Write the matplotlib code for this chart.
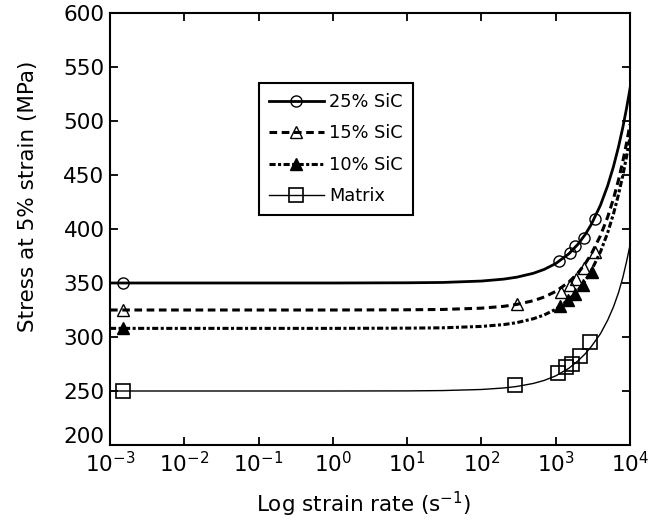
import numpy as np
import matplotlib
matplotlib.use('Agg')
import matplotlib.pyplot as plt
from matplotlib.lines import Line2D
from matplotlib.ticker import FixedLocator, NullLocator
from matplotlib.transforms import ScaledTranslation

plt.rcParams['font.family'] = ['DejaVu Sans']
plt.rcParams['mathtext.fontset'] = 'dejavusans'
plt.rcParams['mathtext.default'] = 'regular'

# fitted curves
rate_fit = [1e-3, 1e-1, 1, 10, 30, 100, 200, 300, 500, 700, 1000, 1500, 2000,
            2500, 3000, 4000, 5000, 6000, 7000, 8000, 9000, 10000]
fit_25 = [350, 350, 350, 350.2, 350.5, 351.8, 353.6, 355.4, 359, 362.6, 368,
          377, 386, 395, 404, 422, 440, 458, 476, 494, 512, 530]
fit_15 = [325, 325, 325, 325.2, 325.5, 326.7, 328.4, 330.2, 333.6, 337, 342.2,
          350.8, 359.4, 368, 376.6, 393.8, 411, 428.2, 445.4, 462.6, 479.8, 497]
fit_10 = [308, 308, 308, 308.2, 308.5, 309.8, 311.5, 313.3, 316.9, 320.4, 325.7,
          334.6, 343.4, 352.3, 361.1, 378.8, 396.5, 414.2, 431.9, 449.6, 467.3, 485]
fit_m = [250, 250, 250, 250.1, 250.4, 251.4, 252.8, 254.2, 257, 259.8, 264,
         271, 278, 284.5, 291, 303, 315.5, 328, 341, 355, 370, 385]

# measured points
rate_25 = [1.5e-3, 1.12e3, 1.55e3, 1.82e3, 2.37e3, 3.38e3]
stress_25 = [350, 370, 378, 384, 392, 409]
rate_15 = [1.5e-3, 300, 1.17e3, 1.55e3, 1.9e3, 2.4e3, 3.35e3]
stress_15 = [325, 331, 342, 348.5, 354, 363.5, 379]
rate_10 = [1.5e-3, 1.13e3, 1.47e3, 1.8e3, 2.35e3, 3.1e3]
stress_10 = [308, 329, 334, 340, 348, 360]
rate_m = [1.5e-3, 283, 1.07e3, 1.39e3, 1.67e3, 2.14e3, 2.9e3]
stress_m = [250, 255.5, 267, 272, 275, 282.7, 295.7]

labels = ['25% SiC', '15% SiC', '10% SiC', 'Matrix']
xticks = [1e-3, 1e-2, 1e-1, 1, 10, 100, 1000, 10000]
xtick_labels = ['$10^{-3}$', '$10^{-2}$', '$10^{-1}$', '$10^{0}$',
                '$10^{1}$', '$10^{2}$', '$10^{3}$', '$10^{4}$']
yticks = [200, 250, 300, 350, 400, 450, 500, 550, 600]

fig = plt.figure(figsize=(6.54, 5.22), dpi=100)
ax = fig.add_axes([110 / 654, 1 - 445 / 522, 520 / 654, 432 / 522])

st_25 = dict(color='k', lw=2.0, ls='-')
st_15 = dict(color='k', lw=2.2, ls=(0, (2.5, 1.5)))
st_10 = dict(color='k', lw=2.2, ls=(0, (2.0, 0.8, 1.0, 0.8)))
st_m = dict(color='k', lw=1.0, ls='-')

ax.plot(rate_fit, fit_25, **st_25)
ax.plot(rate_fit, fit_15, **st_15)
ax.plot(rate_fit, fit_10, **st_10)
ax.plot(rate_fit, fit_m, **st_m)

mk_25 = dict(marker='o', ms=8, mfc='none', mec='k', mew=1.0)
mk_15 = dict(marker='^', ms=9, mfc='none', mec='k', mew=1.0)
mk_10 = dict(marker='^', ms=9, mfc='k', mec='k', mew=1.0)
mk_m = dict(marker='s', ms=9.5, mfc='none', mec='k', mew=1.2)

ax.plot(rate_25, stress_25, ls='none', **mk_25)
ax.plot(rate_15, stress_15, ls='none', **mk_15)
ax.plot(rate_10, stress_10, ls='none', **mk_10)
ax.plot(rate_m, stress_m, ls='none', **mk_m)

ax.set_xscale('log')
ax.set_xlim(1e-3, 1e4)
ax.set_ylim(200, 600)
ax.xaxis.set_major_locator(FixedLocator(xticks))
ax.xaxis.set_minor_locator(NullLocator())
ax.set_xticklabels(xtick_labels)
ax.set_yticks(yticks)

ax.tick_params(which='both', direction='in', top=True, right=True,
               length=6, width=1.3, labelsize=15.5)
ax.tick_params(axis='x', pad=4)
ax.tick_params(axis='y', pad=4)
for sp in ax.spines.values():
    sp.set_linewidth(1.5)

# the lowest y label sits a little higher, just clear of 10^-3
lab0 = ax.get_yticklabels()[0]
lab0.set_transform(lab0.get_transform()
                   + ScaledTranslation(0, 7 / 72, fig.dpi_scale_trans))

ax.set_xlabel('Log strain rate (s$^{-1}$)', fontsize=15.5)
ax.set_ylabel('Stress at 5% strain (MPa)', fontsize=15.5)
ax.xaxis.set_label_coords(0.488, -0.104)
ax.yaxis.set_label_coords(-0.138, 0.575)

handles = [Line2D([], [], **st_25, **mk_25),
           Line2D([], [], **st_15, **mk_15),
           Line2D([], [], **st_10, **mk_10),
           Line2D([], [], **st_m, **mk_m)]
leg = ax.legend(handles, labels, loc='upper left',
                bbox_to_anchor=((259 - 110) / 520, (445 - 83) / 432),
                borderaxespad=0, fancybox=False, edgecolor='k', framealpha=1,
                fontsize=12.8, handlelength=3.1, labelspacing=0.76,
                handletextpad=0.3, borderpad=0.55)
leg.get_frame().set_linewidth(1.5)

fig.savefig('out.png', dpi=100)
